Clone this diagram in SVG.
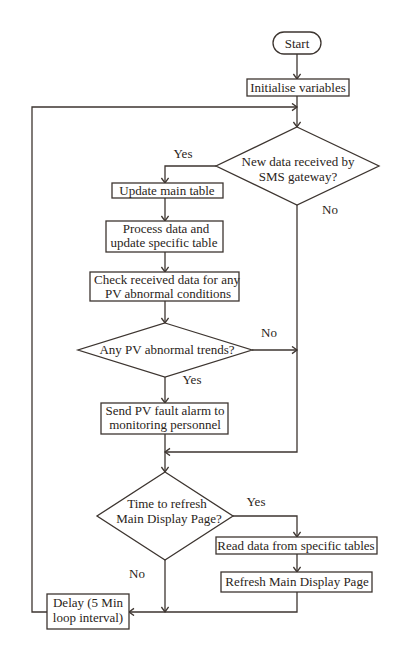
<svg xmlns="http://www.w3.org/2000/svg" width="410" height="660" viewBox="0 0 410 660">
<style>
.n{fill:#fff;stroke:#3d3530;stroke-width:1.3}
.c{fill:none;stroke:#3d3530;stroke-width:1.3}
text{font-family:"Liberation Serif","Times New Roman",serif;font-size:13px;fill:#2a2420;text-anchor:middle}
</style>
<defs>
<marker id="a" markerUnits="userSpaceOnUse" markerWidth="12" markerHeight="12" refX="6" refY="4" orient="auto">
<path d="M1,0.4 L6,4 L1,7.6" fill="none" stroke="#3d3530" stroke-width="1.3"/>
</marker>
</defs>
<rect width="410" height="660" fill="#fff"/>
<g id="connectors">
<path class="c" d="M297,54 V79" marker-end="url(#a)"/>
<path class="c" d="M297,96 V127" marker-end="url(#a)"/>
<path class="c" d="M216,166 H165 V183" marker-end="url(#a)"/>
<path class="c" d="M165,198 V221" marker-end="url(#a)"/>
<path class="c" d="M165,252 V272" marker-end="url(#a)"/>
<path class="c" d="M165,301 V323" marker-end="url(#a)"/>
<path class="c" d="M252,350 H297" marker-end="url(#a)"/>
<path class="c" d="M165,377 V403" marker-end="url(#a)"/>
<path class="c" d="M297,205 V452 H165" marker-end="url(#a)"/>
<path class="c" d="M165,434 V472" marker-end="url(#a)"/>
<path class="c" d="M233,516 H297 V537" marker-end="url(#a)"/>
<path class="c" d="M297,554 V572" marker-end="url(#a)"/>
<path class="c" d="M297,592 V612 H129" marker-end="url(#a)"/>
<path class="c" d="M165,560 V612" marker-end="url(#a)"/>
<path class="c" d="M47,612 H32 V107 H297" marker-end="url(#a)"/>
<text x="183" y="158">Yes</text>
<text x="330" y="214">No</text>
<text x="269" y="337">No</text>
<text x="192" y="384">Yes</text>
<text x="256" y="506">Yes</text>
<text x="137" y="578">No</text>
</g>
<g id="start">
<rect class="n" x="273" y="32" width="48" height="22" rx="11"/>
<text x="297" y="47.5">Start</text>
</g>
<g id="init">
<rect class="n" x="247" y="79" width="102" height="17"/>
<text x="298" y="92">Initialise variables</text>
</g>
<g id="d1">
<polygon class="n" points="297,127 379,166 297,205 216,166"/>
<text x="298" y="166">New data received by</text>
<text x="298" y="181">SMS gateway?</text>
</g>
<g id="update">
<rect class="n" x="112" y="183" width="111" height="15"/>
<text x="167" y="195">Update main table</text>
</g>
<g id="process">
<rect class="n" x="106" y="221" width="117" height="31"/>
<text x="166" y="233">Process data and</text>
<text x="164" y="247">update specific table</text>
</g>
<g id="check">
<rect class="n" x="90" y="272" width="149" height="29"/>
<text x="167" y="284">Check received data for any</text>
<text x="168" y="298">PV abnormal conditions</text>
</g>
<g id="d2">
<polygon class="n" points="165,323 252,350 165,377 78,350"/>
<text x="167" y="354">Any PV abnormal trends?</text>
</g>
<g id="send">
<rect class="n" x="101" y="403" width="127" height="31"/>
<text x="165" y="415">Send PV fault alarm to</text>
<text x="165" y="429">monitoring personnel</text>
</g>
<g id="d3">
<polygon class="n" points="165,472 233,516 165,560 97,516"/>
<text x="167" y="508">Time to refresh</text>
<text x="169" y="523">Main Display Page?</text>
</g>
<g id="read">
<rect class="n" x="216" y="537" width="161" height="17"/>
<text x="296" y="550">Read data from specific tables</text>
</g>
<g id="refresh">
<rect class="n" x="221" y="572" width="151" height="20"/>
<text x="297" y="586">Refresh Main Display Page</text>
</g>
<g id="delay">
<rect class="n" x="47" y="594" width="82" height="35"/>
<text x="88" y="607">Delay (5 Min</text>
<text x="88" y="622">loop interval)</text>
</g>
</svg>
